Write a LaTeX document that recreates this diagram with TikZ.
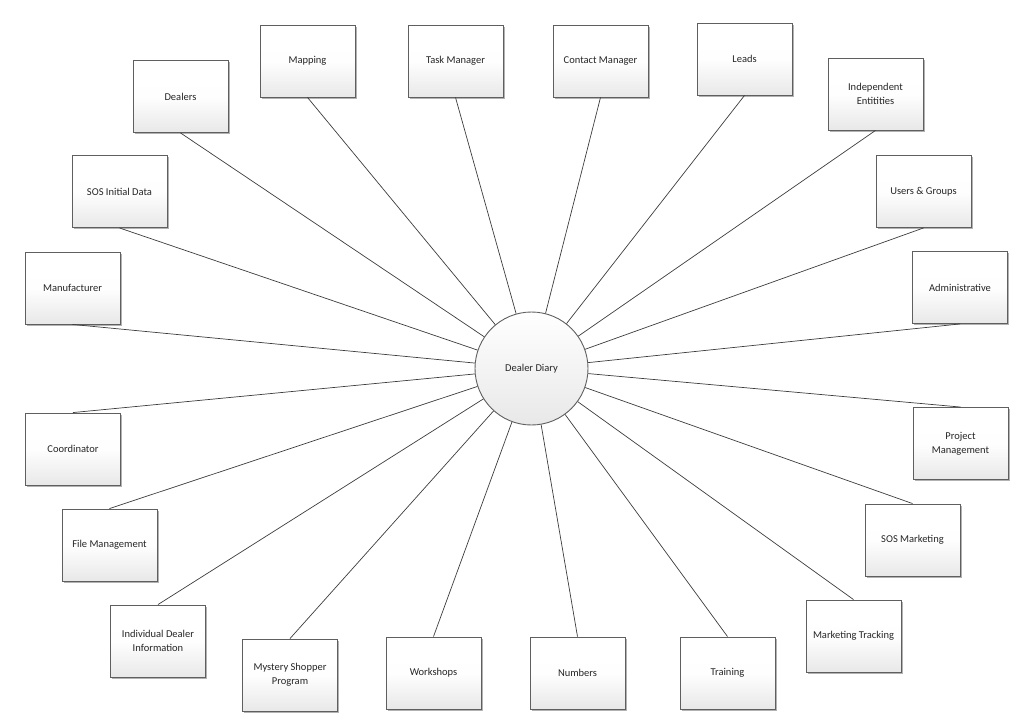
\documentclass[tikz,border=0pt]{standalone}
\usepackage{fontspec}
\setmainfont{Carlito}
\usetikzlibrary{shadows}
\definecolor{ddline}{RGB}{60, 60, 60}
\definecolor{ddedge}{RGB}{95, 95, 95}
\definecolor{ddfill}{RGB}{232, 232, 232}
\begin{document}
\begin{tikzpicture}[x=1pt, y=-1pt,
  box/.style={draw=ddedge, line width=0.9pt, top color=white, bottom color=ddfill,
    middle color=white!97!ddfill,
    minimum width=95pt, minimum height=72pt, align=center,
    font=\fontsize{10.5}{14}\selectfont, text=black!85,
    drop shadow={shadow xshift=1.6pt, shadow yshift=-1.6pt, fill=black, opacity=0.3}},
  hub/.style={circle, draw=ddedge, line width=0.9pt, top color=white, bottom color=ddfill,
    minimum size=113pt, font=\fontsize{10.5}{14}\selectfont, text=black!85},
  link/.style={ddline, line width=0.7pt}]

  \useasboundingbox (0,0) rectangle (1036,725);

  % --- central process ---
  \node[hub] (diary) at (531.5, 368.5) {Dealer Diary};

  % --- surrounding modules (name/x/y/anchor/label) ---
  \foreach \n/\x/\y/\a/\t in {
    dealers/180.5/96.5/south/Dealers,
    mapping/307.5/61/south/Mapping,
    taskmgr/455.5/61/south/Task Manager,
    contactmgr/600.5/61/south/Contact Manager,
    leads/744.5/59/south/Leads,
    indep/875.5/94/south/Independent\\Entitities,
    users/923.5/191.5/south/Users \& Groups,
    admin/960/287.5/south/Administrative,
    project/960.5/443.5/north/Project\\Management,
    sosmkt/912.5/540/north/SOS Marketing,
    mkttrack/853.5/636/north/Marketing Tracking,
    training/727.5/673/north/Training,
    numbers/577.5/673/north/Numbers,
    workshops/433.5/673/north/Workshops,
    mystery/290/675/north/Mystery Shopper\\Program,
    indiv/158/641/north/Individual Dealer\\Information,
    filemgmt/109.5/545/north/File Management,
    coord/73/449/north/Coordinator,
    manuf/72.5/288/south/Manufacturer,
    sosinit/119.5/191.5/south/SOS Initial Data}
  {
    \node[box] (\n) at (\x, \y) {\t};
    \draw[link] (diary) -- (\n.\a);
  }

\end{tikzpicture}
\end{document}
